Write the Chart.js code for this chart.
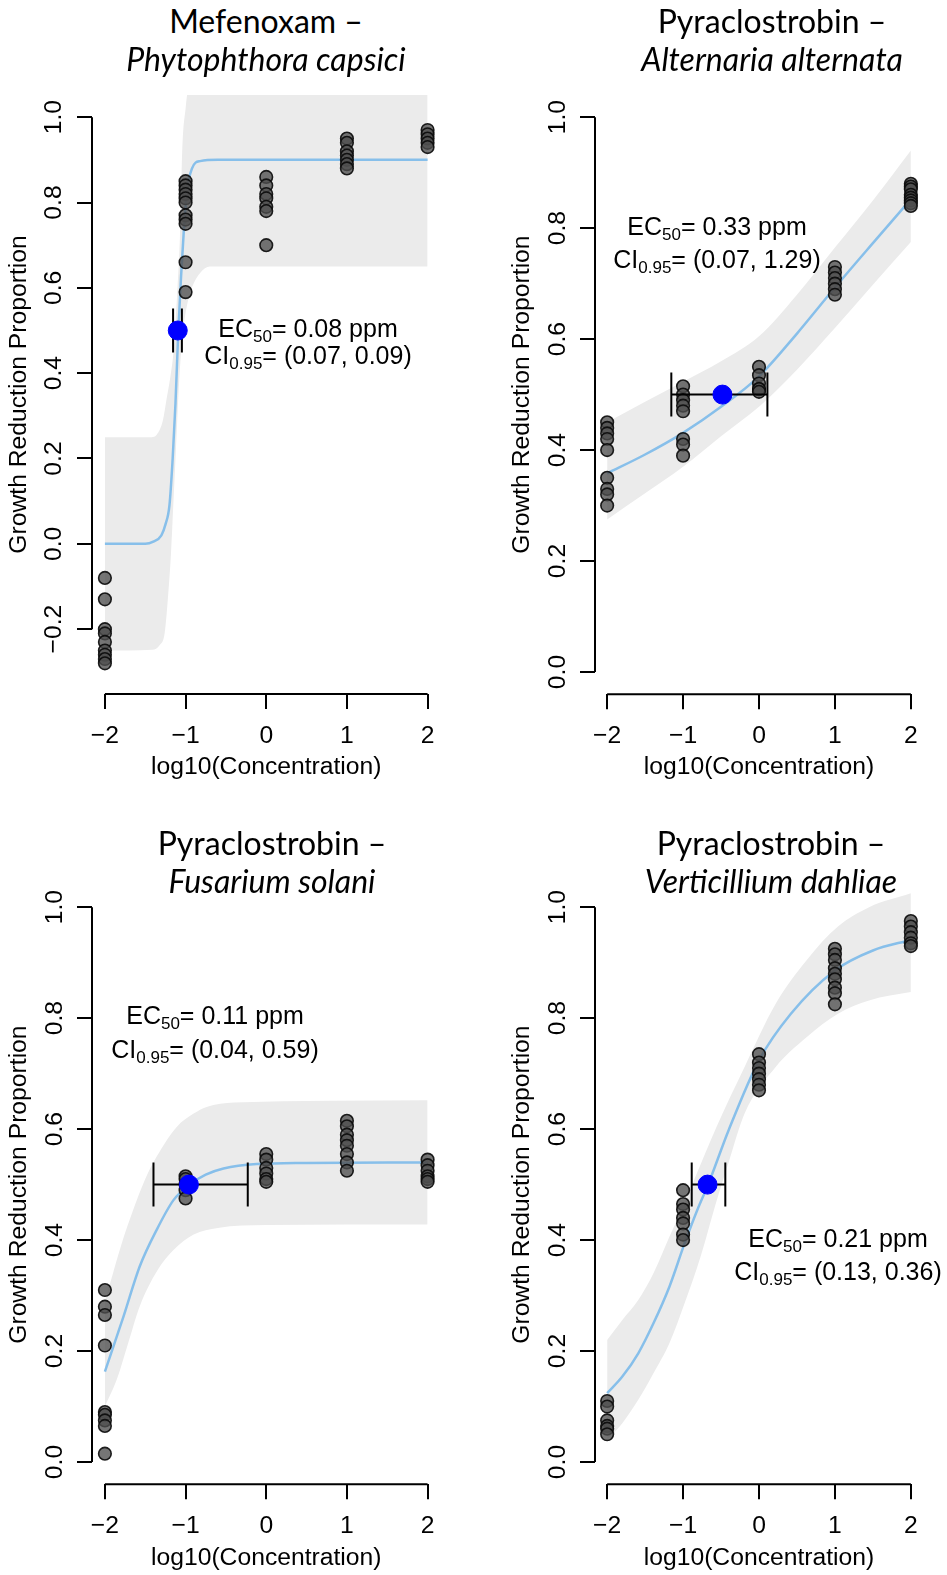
<!DOCTYPE html>
<html>
<head>
<meta charset="utf-8">
<script src="https://cdn.jsdelivr.net/npm/chart.js@4.4.1/dist/chart.umd.min.js"></script>
<style>
html, body { margin:0; padding:0; background:#fff; width:947px; height:1575px; overflow:hidden; position:relative; }
canvas { position:absolute; }
.txt { position:absolute; width:600px; text-align:center; white-space:nowrap; line-height:1; color:#000; }
.head { font-family: Lato, "Open Sans", sans-serif; font-size: 32px; }
.head.sp { font-style: italic; }
.ann { font-family: "Liberation Sans", Arial, sans-serif; font-size: 25px; }
.ann sub { font-size: 17px; vertical-align: -5px; line-height: 0; }
.bl { display:inline-block; width:0; height:0; vertical-align:baseline; }
</style>
</head>
<body>
<canvas id="c1"></canvas>
<canvas id="c2"></canvas>
<canvas id="c3"></canvas>
<canvas id="c4"></canvas>
<script>
// log10 doses and axis ticks
const doses      = [-2, -1, 0, 1, 2];
const xTicks     = [-2, -1, 0, 1, 2];
const yTicksWide = [-0.2, 0, 0.2, 0.4, 0.6, 0.8, 1.0];
const yTicks     = [0, 0.2, 0.4, 0.6, 0.8, 1.0];

const fungicide = ['Mefenoxam', 'Pyraclostrobin', 'Pyraclostrobin', 'Pyraclostrobin'];
const pathogen  = ['Phytophthora capsici', 'Alternaria alternata', 'Fusarium solani', 'Verticillium dahliae'];
const ec50      = [0.08, 0.33, 0.11, 0.21];
const ciLow     = [0.07, 0.07, 0.04, 0.13];
const ciHigh    = [0.09, 1.29, 0.59, 0.36];

// observed growth reduction, one row per dose
const obsMef = [
    [-0.08, -0.13, -0.20, -0.21, -0.23, -0.25, -0.26, -0.27, -0.28],
    [0.85, 0.84, 0.83, 0.82, 0.81, 0.80, 0.77, 0.76, 0.75, 0.66, 0.59],
    [0.86, 0.84, 0.82, 0.81, 0.79, 0.78, 0.70],
    [0.95, 0.94, 0.92, 0.91, 0.90, 0.89, 0.88],
    [0.97, 0.96, 0.95, 0.94, 0.93]
];
const obsAlt = [
    [0.45, 0.44, 0.43, 0.42, 0.40, 0.35, 0.33, 0.32, 0.30],
    [0.515, 0.50, 0.49, 0.48, 0.47, 0.42, 0.41, 0.39],
    [0.55, 0.535, 0.52, 0.51, 0.51, 0.505],
    [0.73, 0.72, 0.71, 0.70, 0.69, 0.68],
    [0.88, 0.875, 0.87, 0.86, 0.855, 0.85, 0.845, 0.84]
];
const obsFus = [
    [0.31, 0.28, 0.265, 0.21, 0.09, 0.085, 0.075, 0.065, 0.015],
    [0.515, 0.51, 0.50, 0.49, 0.475],
    [0.555, 0.545, 0.53, 0.52, 0.51, 0.505],
    [0.615, 0.605, 0.59, 0.58, 0.57, 0.555, 0.54, 0.525],
    [0.545, 0.535, 0.525, 0.515, 0.51, 0.505]
];
const obsVer = [
    [0.11, 0.10, 0.075, 0.065, 0.06, 0.05],
    [0.49, 0.465, 0.455, 0.44, 0.43, 0.41, 0.40],
    [0.735, 0.72, 0.71, 0.70, 0.69, 0.68, 0.67],
    [0.925, 0.915, 0.905, 0.89, 0.88, 0.87, 0.855, 0.845, 0.825],
    [0.975, 0.965, 0.955, 0.945, 0.935, 0.93]
];

// fitted curves
const fitMefX = [-2, -1.5, -1.4, -1.3, -1.25, -1.2, -1.16, -1.125, -1.09, -1.055, -1.02, -0.98, -0.92, -0.82, -0.6, 0, 1, 2];
const fitMefY = [0, 0, 0.005, 0.02, 0.045, 0.09, 0.2, 0.33, 0.5, 0.63, 0.74, 0.83, 0.88, 0.897, 0.9, 0.9, 0.9, 0.9];
const fitAltX = [-2, -1.5, -1, -0.5, 0, 0.5, 1, 1.5, 2];
const fitAltY = [0.358, 0.392, 0.431, 0.478, 0.533, 0.61, 0.693, 0.773, 0.852];
const fitFusX = [-2, -1.77, -1.57, -1.36, -1.15, -0.95, -0.75, -0.53, -0.12, 0.5, 2];
const fitFusY = [0.163, 0.262, 0.352, 0.418, 0.472, 0.5, 0.518, 0.529, 0.537, 0.539, 0.54];
const fitVerX = [-2, -1.8, -1.59, -1.39, -1.18, -0.98, -0.81, -0.67, -0.4, 0, 0.42, 1, 1.5, 2];
const fitVerY = [0.124, 0.154, 0.196, 0.25, 0.316, 0.394, 0.455, 0.5, 0.598, 0.724, 0.808, 0.886, 0.922, 0.941];

// 95% confidence bands: upper and lower edges
const hiMefX = [-2, -1.42, -1.36, -1.28, -1.235, -1.19, -1.15, -1.1, -1.07, -1.04, -1.0, -0.97, 2];
const hiMefY = [0.25, 0.25, 0.255, 0.29, 0.34, 0.39, 0.45, 0.6, 0.72, 0.93, 1.02, 1.06, 1.06];
const loMefX = [-2, -1.41, -1.32, -1.26, -1.22, -1.18, -1.15, -1.12, -1.08, -1.03, -0.97, -0.9, -0.82, -0.7, 2];
const loMefY = [-0.25, -0.248, -0.237, -0.21, -0.13, -0.02, 0.1, 0.22, 0.38, 0.5, 0.57, 0.61, 0.635, 0.65, 0.65];
const hiAltX = [-2, -1.5, -1, -0.5, 0, 0.5, 1, 1.5, 2];
const hiAltY = [0.45, 0.487, 0.523, 0.56, 0.605, 0.68, 0.765, 0.85, 0.94];
const loAltX = [-2, -1.5, -1, -0.5, 0, 0.5, 1, 1.5, 2];
const loAltY = [0.275, 0.322, 0.37, 0.425, 0.478, 0.545, 0.62, 0.698, 0.775];
const hiFusX = [-2, -1.94, -1.8, -1.65, -1.5, -1.36, -1.11, -0.9, -0.74, -0.4, 2];
const hiFusY = [0.29, 0.32, 0.39, 0.454, 0.51, 0.55, 0.604, 0.628, 0.64, 0.648, 0.652];
const loFusX = [-2, -1.85, -1.7, -1.57, -1.35, -1.15, -0.9, -0.6, 0, 2];
const loFusY = [0.1, 0.15, 0.22, 0.28, 0.345, 0.382, 0.41, 0.422, 0.427, 0.428];
const hiVerX = [-2, -1.8, -1.59, -1.39, -1.18, -1.0, -0.85, -0.56, -0.19, 0.22, 0.63, 1.04, 1.45, 2];
const hiVerY = [0.22, 0.256, 0.292, 0.34, 0.406, 0.46, 0.51, 0.604, 0.712, 0.826, 0.905, 0.965, 1.0, 1.025];
const loVerX = [-2, -1.8, -1.59, -1.39, -1.18, -0.98, -0.77, -0.56, -0.4, -0.19, 0.22, 0.63, 1.04, 1.45, 2];
const loVerY = [0.04, 0.07, 0.112, 0.16, 0.214, 0.286, 0.37, 0.47, 0.54, 0.628, 0.712, 0.766, 0.808, 0.832, 0.847];

const AXIS_FONT = "'Liberation Sans', Arial, sans-serif";
const AXIS_SIZE = 24.7;
const HALF_LINE = AXIS_SIZE * 0.6;

Chart.defaults.font.family = AXIS_FONT;
Chart.defaults.font.size = AXIS_SIZE;
Chart.defaults.color = '#000';

// R style axes: line only between the outer ticks
const rAxes = {
    id: 'rAxes',
    afterDraw(chart) {
        const {ctx, chartArea, scales: {x, y}} = chart;
        const yt = y.ticks;
        ctx.save();
        ctx.strokeStyle = '#000';
        ctx.lineWidth = 2;
        ctx.beginPath();
        ctx.moveTo(x.getPixelForValue(xTicks[0]), chartArea.bottom);
        ctx.lineTo(x.getPixelForValue(xTicks[xTicks.length - 1]), chartArea.bottom);
        ctx.moveTo(chartArea.left, y.getPixelForValue(yt[0].value));
        ctx.lineTo(chartArea.left, y.getPixelForValue(yt[yt.length - 1].value));
        ctx.stroke();
        ctx.restore();
    }
};

const pts = (xs, ys) => xs.map((v, i) => ({x: v, y: ys[i]}));
const minus = s => s.replace('-', '\u2212');

// page geometry: canvas left/width, R plot region, x-axis title centre
const panels = [
    {id: 'c1', obs: obsMef, fx: fitMefX, fy: fitMefY, hx: hiMefX, hy: hiMefY, lx: loMefX, ly: loMefY,
     yt: yTicksWide, ymin: -0.352, ymax: 1.052, ytp: -2,
     left: 0, width: 470, plot: {left: 92, right: 440.5, top: 94.8, bottom: 694}, xTitle: 767},
    {id: 'c2', obs: obsAlt, fx: fitAltX, fy: fitAltY, hx: hiAltX, hy: hiAltY, lx: loAltX, ly: loAltY,
     yt: yTicks, ymin: -0.04, ymax: 1.04, ytp: 5,
     left: 503, width: 444, plot: {left: 595, right: 944, top: 94.8, bottom: 694.2}, xTitle: 767},
    {id: 'c3', obs: obsFus, fx: fitFusX, fy: fitFusY, hx: hiFusX, hy: hiFusY, lx: loFusX, ly: loFusY,
     yt: yTicks, ymin: -0.04, ymax: 1.04, ytp: 5,
     left: 0, width: 470, plot: {left: 92, right: 440.5, top: 884.8, bottom: 1484.2}, xTitle: 1558},
    {id: 'c4', obs: obsVer, fx: fitVerX, fy: fitVerY, hx: hiVerX, hy: hiVerY, lx: loVerX, ly: loVerY,
     yt: yTicks, ymin: -0.04, ymax: 1.04, ytp: 5,
     left: 503, width: 444, plot: {left: 595, right: 944, top: 884.8, bottom: 1484.2}, xTitle: 1558}
];

function makeConfig(p, k) {
    const obsPts = doses.flatMap((d, i) => p.obs[i].map(v => ({x: d, y: v})));
    const xh = p.xTitle + 18 - p.plot.bottom;
    return {
        type: 'line',
        data: {
            datasets: [{
                data: pts(p.lx, p.ly),
                borderColor: 'rgba(0,0,0,0)', borderWidth: 0, pointRadius: 0,
                cubicInterpolationMode: 'monotone', fill: false, order: 7
            }, {
                data: pts(p.hx, p.hy),
                borderColor: 'rgba(0,0,0,0)', borderWidth: 0, pointRadius: 0,
                cubicInterpolationMode: 'monotone', fill: '-1',
                backgroundColor: '#EBEBEB', order: 6
            }, {
                data: pts(p.fx, p.fy),
                borderColor: '#87BFEA', borderWidth: 2.5, pointRadius: 0,
                cubicInterpolationMode: 'monotone', fill: false, order: 5
            }, {
                data: obsPts,
                showLine: false, pointRadius: 6.3, pointBorderWidth: 1.6,
                pointBackgroundColor: 'rgba(78,78,78,0.78)',
                pointBorderColor: 'rgba(10,10,10,0.9)', order: 4
            }, {
                data: [{x: Math.log10(ciLow[k]), y: 0.5}, {x: Math.log10(ciHigh[k]), y: 0.5}],
                borderColor: '#000', borderWidth: 2,
                pointStyle: 'line', pointRotation: 90, pointRadius: 22,
                pointBorderColor: '#000', pointBorderWidth: 2, order: 3
            }, {
                data: [{x: Math.log10(ec50[k]), y: 0.5}],
                showLine: false, pointRadius: 9.5,
                pointBackgroundColor: '#0000FF', pointBorderColor: '#0000FF', pointBorderWidth: 1, order: 2
            }]
        },
        options: {
            responsive: false,
            maintainAspectRatio: false,
            animation: false,
            devicePixelRatio: 1,
            events: [],
            layout: {
                padding: {left: 0, bottom: 0, top: 0, right: p.left + p.width - p.plot.right}
            },
            plugins: { legend: {display: false}, tooltip: {enabled: false} },
            scales: {
                x: {
                    type: 'linear', min: -2.16, max: 2.16,
                    afterBuildTicks: s => { s.ticks = xTicks.map(v => ({value: v})); },
                    afterFit: s => {
                        s.height = xh;
                        s.paddingLeft = 0; s.paddingRight = 0;
                    },
                    border: {display: false},
                    grid: {drawOnChartArea: false, drawTicks: true, tickLength: 15, color: '#000', lineWidth: 2},
                    ticks: {padding: 12, autoSkip: false, maxRotation: 0, callback: v => minus(String(v))},
                    title: {
                        display: true, text: 'log10(Concentration)',
                        padding: {top: 0, bottom: 18 - HALF_LINE}
                    }
                },
                y: {
                    type: 'linear', min: p.ymin, max: p.ymax,
                    afterBuildTicks: s => { s.ticks = p.yt.map(v => ({value: v})); },
                    afterFit: s => {
                        s.width = p.plot.left - p.left;
                        s.paddingTop = 0; s.paddingBottom = 0;
                    },
                    border: {display: false},
                    grid: {drawOnChartArea: false, drawTicks: true, tickLength: 15, color: '#000', lineWidth: 2},
                    ticks: {padding: p.ytp, autoSkip: false, minRotation: 90, maxRotation: 90, crossAlign: 'center',
                            callback: v => minus(v.toFixed(1))},
                    title: {
                        display: true, text: 'Growth Reduction Proportion',
                        padding: {top: 92 - 73 - HALF_LINE, bottom: 0}
                    }
                }
            }
        },
        plugins: [rAxes]
    };
}

panels.forEach((p, k) => {
    const cv = document.getElementById(p.id);
    const xh = p.xTitle + 18 - p.plot.bottom;
    const baseH = p.plot.bottom - p.plot.top + xh;
    cv.width = p.width;
    cv.height = baseH;
    cv.style.left = p.left + 'px';
    // first pass: find how far Chart.js pushes the plot area down
    let chart = new Chart(cv.getContext('2d'), makeConfig(p, k));
    const m = chart.chartArea.top;
    chart.destroy();
    cv.width = p.width;
    cv.height = Math.round(baseH + m);
    cv.style.top = (p.plot.bottom + xh - cv.height) + 'px';
    new Chart(cv.getContext('2d'), makeConfig(p, k));
});

// text placed by centre x and baseline y
function placeText(html, cx, baseline, cls) {
    const d = document.createElement('div');
    d.className = 'txt ' + cls;
    d.innerHTML = html + '<span class="bl"></span>';
    document.body.appendChild(d);
    d.style.left = (cx - 300) + 'px';
    d.style.top = '0px';
    const b = d.querySelector('.bl').offsetTop;
    d.style.top = (baseline - b) + 'px';
}

const titlePos = [[266, 33, 71], [772, 33, 71], [272, 855, 893], [771, 855, 893]];
const annPos   = [[308, 337, 364], [717, 235, 268], [215, 1024, 1058], [838, 1247, 1280]];

panels.forEach((p, k) => {
    const [tx, t1, t2] = titlePos[k];
    placeText(fungicide[k] + ' \u2013', tx, t1, 'head');
    placeText(pathogen[k], tx, t2, 'head sp');
    const [ax, a1, a2] = annPos[k];
    placeText('EC<sub>50</sub>= ' + ec50[k].toFixed(2) + ' ppm', ax, a1, 'ann');
    placeText('CI<sub>0.95</sub>= (' + ciLow[k].toFixed(2) + ', ' + ciHigh[k].toFixed(2) + ')', ax, a2, 'ann');
});
</script>
</body>
</html>
